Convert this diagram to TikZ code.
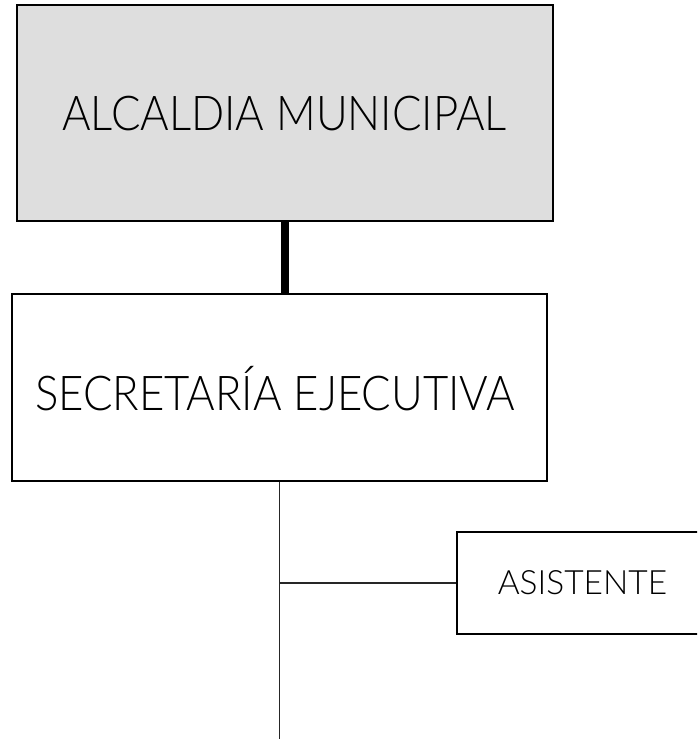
\documentclass[tikz,border=0pt]{standalone}
\usepackage{fontspec}
\setmainfont{Lato Light}
\newfontfamily\narrowfont[FakeStretch=0.91]{Lato Light}
\begin{document}
\begin{tikzpicture}[x=1pt,y=-1pt]
\tikzset{
  orgbox/.style={draw=black, line width=2.2pt, rectangle, inner sep=0pt, align=center},
  bigtext/.style={font=\narrowfont\fontsize{48}{52}\selectfont},
  smalltext/.style={font=\fontsize{33.5}{36}\selectfont},
  thinline/.style={draw=black!85, line width=1.4pt},
  thickline/.style={draw=black, line width=8pt}
}
\useasboundingbox (0,0) rectangle (697,739);
\clip (0,0) rectangle (697,739);
\node[orgbox, fill=black!13, minimum width=536pt, minimum height=216pt] (alc) at (285,113) {};
\node[bigtext, inner sep=0pt] (alctxt) at (284.5,114) {ALCALDIA MUNICIPAL};
\node[orgbox, fill=white, minimum width=535pt, minimum height=187pt] (sec) at (279.5,387.5) {};
\node[bigtext, inner sep=0pt] (sectxt) at (275,389) {SECRETARÍA EJECUTIVA};
\node[orgbox, fill=white, minimum width=260pt, minimum height=102pt] (asi) at (587,583) {};
\node[smalltext, inner sep=0pt] (asitxt) at (582.5,583) {ASISTENTE};
\coordinate (bot) at (279.5,739);
\draw[thickline] (alc.south) -- (alc.south |- sec.north);
\draw[thinline] (sec.south) -- (bot);
\draw[thinline] (sec.south |- asi.west) -- (asi.west);
\end{tikzpicture}
\end{document}
